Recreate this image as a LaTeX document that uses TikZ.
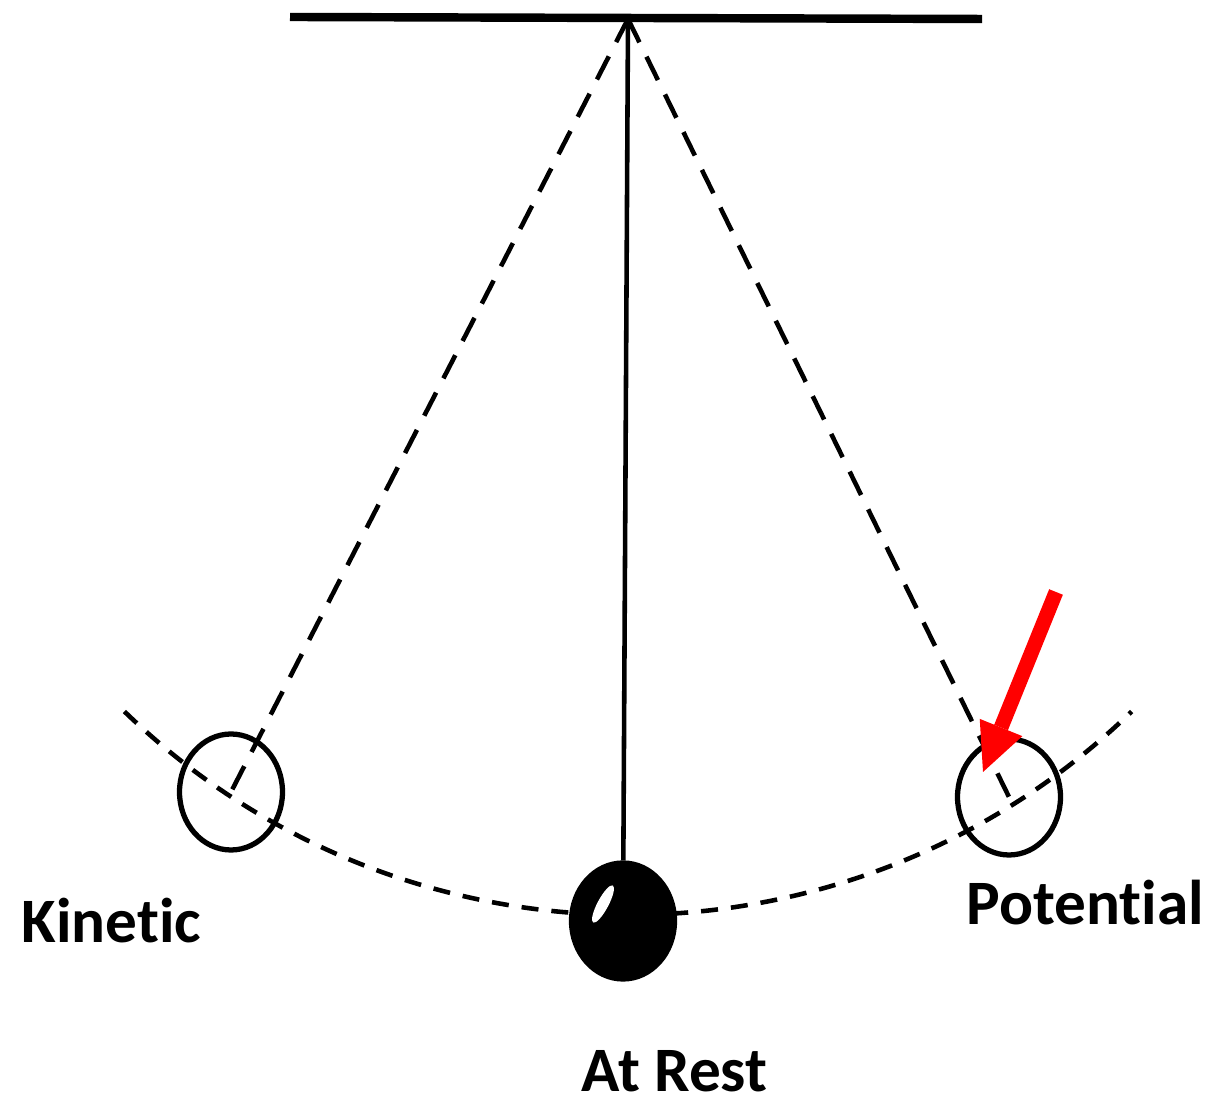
\documentclass[tikz,border=0pt]{standalone}
\usepackage{fontspec}
\setmainfont[Ligatures=NoCommon]{Carlito}
\usetikzlibrary{arrows.meta,positioning,shapes.geometric}

\begin{document}
\begin{tikzpicture}[
  every node/.style={font=\bfseries\fontsize{18}{21}\selectfont},
  bob/.style={draw, ellipse, line width=1.5pt, minimum width=1.03cm,
               minimum height=1.16cm, inner sep=0pt},
  lbl/.style={anchor=base west, inner sep=0pt},
  string/.style={line width=1.3pt, dash pattern=on 0.26cm off 0.16cm},
  swing/.style={line width=1.3pt, dash pattern=on 0.17cm off 0.13cm},
  >=Stealth
]
\useasboundingbox (0,0) rectangle (12.30,11.03);

% support and pivot
\coordinate (barL) at (2.90,10.86);
\coordinate (barR) at (9.82,10.84);
\coordinate (pivot) at (6.28,10.84);
\draw[line width=2.4pt] (barL) -- (barR);

% path of the swing
\draw[swing] (1.244,3.915) arc[start angle=226, end angle=314, radius=7.25];

% bobs
\node[bob] (kin) at (2.31,3.11) {};
\node[bob] (pot) at (10.09,3.06) {};
\node[bob, fill=black] (rest) at (6.23,1.82) {};
\fill[white, rotate around={-28:(6.03,1.99)}] (6.03,1.99) ellipse (0.055 and 0.21);

\draw[string] (pivot) -- (kin.center);
\draw[string] (pivot) -- (pot.center);
\draw[line width=1.3pt] (pivot) -- (rest);

% red pointer
\coordinate (redtail) at (10.56,5.11);
\coordinate (redtip) at (9.83,3.31);
\draw[red, line width=4.2pt,
  -{Triangle[length=0.48cm, width=0.46cm, line width=0pt]}] (redtail) -- (redtip);

% labels
\node[lbl] (kinlbl) at (0.21,1.60) {Kinetic};
\node[lbl] (potlbl) at (9.66,1.78) {Potential};
\node[lbl] (restlbl) at (5.81,0.12) {At Rest};

\end{tikzpicture}
\end{document}
